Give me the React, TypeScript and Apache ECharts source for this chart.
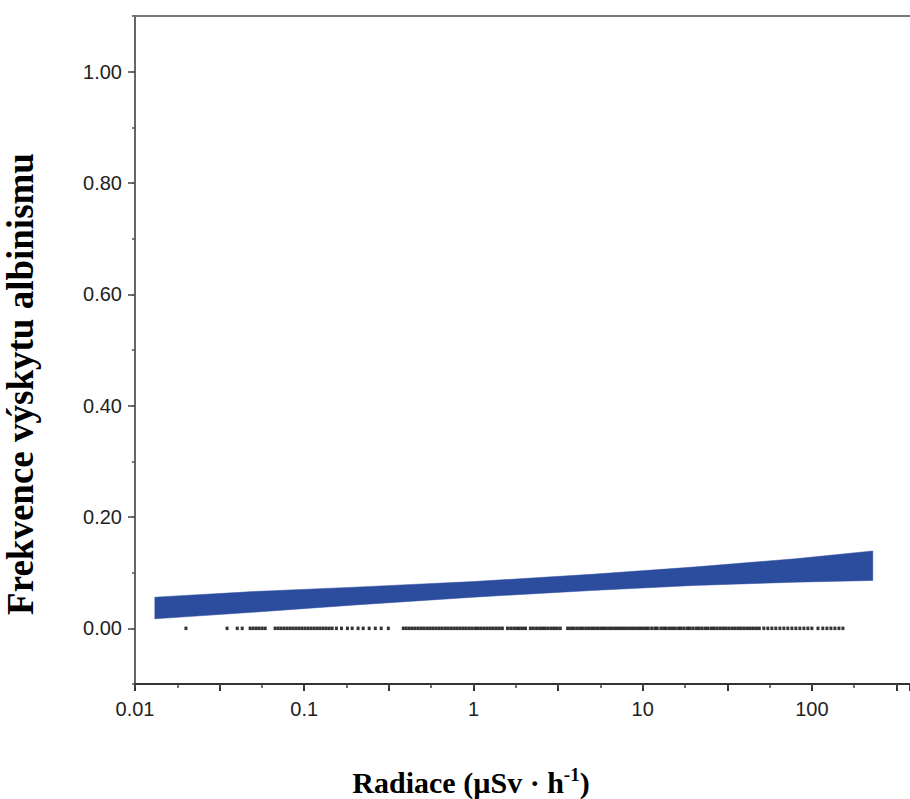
import React, { useEffect, useRef } from 'react';
import * as echarts from 'echarts';

// Confidence band of the fitted albinism frequency vs radiation
const bandX = [0.0131, 0.05, 0.2, 1, 5, 20, 80, 229];
const bandLow = [0.017, 0.029, 0.042, 0.056, 0.068, 0.077, 0.083, 0.086];
const bandHigh = [0.056, 0.066, 0.074, 0.084, 0.097, 0.110, 0.125, 0.139];

// Observed sampling sites (radiation, µSv/h), all with frequency 0
const siteRadiation = [
  0.020,
  0.0350, 0.0402, 0.0430,
  0.0479, 0.0499, 0.0520, 0.0541, 0.0564, 0.0588,
  0.0673, 0.0701, 0.0730, 0.0761, 0.0793, 0.0826, 0.0860, 0.0896, 0.0933, 0.0972,
  0.1013, 0.1055, 0.1099, 0.1145, 0.1193, 0.1242, 0.1294, 0.1348, 0.1404, 0.1463,
  0.155, 0.166, 0.180, 0.192, 0.208, 0.223, 0.242, 0.263, 0.285, 0.314,
  0.385, 0.401, 0.418, 0.435, 0.453, 0.472, 0.492, 0.512, 0.534, 0.556,
  0.579, 0.603, 0.628, 0.654, 0.682, 0.710, 0.740, 0.771, 0.803, 0.836,
  0.871, 0.907, 0.945, 0.985, 1.028, 1.069, 1.113, 1.160, 1.208, 1.259,
  1.311, 1.366, 1.423, 1.482,
  1.59, 1.66, 1.73, 1.80, 1.87, 1.95, 2.03,
  2.17, 2.26, 2.36, 2.46, 2.56, 2.66, 2.77, 2.89, 3.01, 3.13, 3.26,
  3.60, 3.75, 3.90, 4.07, 4.24, 4.41, 4.60,
  4.79, 4.99, 5.19, 5.41, 5.64, 5.87, 6.11, 6.37, 6.63, 6.91,
  7.20, 7.50, 7.81, 8.14, 8.48, 8.83, 9.20, 9.58, 9.98, 10.4,
  10.8, 11.3, 11.8, 12.2, 12.8, 13.3, 13.8, 14.4, 15.0, 15.6,
  16.3, 16.9, 17.6, 18.4, 19.1, 19.9, 20.8, 21.6, 22.5, 23.5,
  24.4, 25.5, 26.5, 27.6, 28.8, 30.0, 31.2, 32.5, 33.9, 35.3,
  36.8, 38.3, 39.9, 41.6, 43.3, 45.1, 47.0, 48.9,
  52.0, 54.9, 58.0, 61.2, 64.7, 68.3, 72.1, 76.2, 80.4, 84.9, 89.7, 94.7, 100,
  108.6, 116, 122.7, 129.6, 136.8, 144.5, 152.5,
];
const siteFrequency = siteRadiation.map(() => 0);

// Axis settings
const X_MIN = 0.01;
const X_MAX = 380;
const Y_MIN = -0.1;
const Y_MAX = 1.1;
const yTickValues = [0, 0.2, 0.4, 0.6, 0.8, 1.0];

const SANS = '"Liberation Sans", Arial, Helvetica, sans-serif';
const SERIF = '"Liberation Serif", "Times New Roman", serif';
const BAND_COLOR = '#2c4c9e';

export default function App() {
  const ref = useRef<HTMLDivElement>(null);

  useEffect(() => {
    if (!ref.current) return;
    const chart = echarts.init(ref.current, null, { renderer: 'svg' });
    const logMin = Math.log10(X_MIN);
    const logMax = Math.log10(X_MAX);

    const hiddenAxisBase = {
      axisLabel: { show: false },
      splitLine: { show: false },
    };

    const option: any = {
      animation: false,
      backgroundColor: '#ffffff',
      grid: {
        left: 135,
        top: 16,
        right: 0,
        bottom: 115,
        containLabel: false,
        outerBoundsMode: 'none',
      },
      xAxis: [
        {
          type: 'log',
          logBase: 10,
          min: X_MIN,
          max: X_MAX,
          position: 'bottom',
          axisLine: { show: true, onZero: false, lineStyle: { color: '#333', width: 2 } },
          axisTick: { show: false },
          minorTick: { show: false },
          splitLine: { show: false },
          axisLabel: {
            fontFamily: SANS,
            fontSize: 20,
            color: '#222',
            margin: 15,
            showMaxLabel: false,
          },
        },
        {
          type: 'log',
          logBase: 10,
          min: X_MIN,
          max: X_MAX,
          position: 'top',
          axisLine: { show: true, onZero: false, lineStyle: { color: '#777', width: 2 } },
          axisTick: { show: false },
          ...hiddenAxisBase,
        },
        {
          type: 'value',
          min: logMin,
          max: logMax,
          interval: 0.5,
          position: 'bottom',
          axisLine: { show: false, onZero: false },
          axisTick: { show: true, length: 7, lineStyle: { color: '#333', width: 2 } },
          ...hiddenAxisBase,
        },
        {
          type: 'value',
          min: logMin,
          max: logMax,
          interval: 0.25,
          position: 'bottom',
          axisLine: { show: false, onZero: false },
          axisTick: { show: true, length: 4, lineStyle: { color: '#444', width: 1.5 } },
          ...hiddenAxisBase,
        },
      ],
      yAxis: [
        {
          type: 'value',
          min: Y_MIN,
          max: Y_MAX,
          interval: 0.1,
          position: 'left',
          axisLine: { show: true, onZero: false, lineStyle: { color: '#666', width: 2 } },
          axisTick: {
            show: true,
            length: 7,
            customValues: yTickValues,
            lineStyle: { color: '#444', width: 1.5 },
          },
          axisLabel: {
            customValues: yTickValues,
            fontFamily: SANS,
            fontSize: 20,
            color: '#222',
            margin: 13,
            formatter: (v: number) => v.toFixed(2),
          },
          splitLine: { show: false },
        },
        {
          type: 'value',
          min: Y_MIN,
          max: Y_MAX,
          interval: 0.1,
          position: 'left',
          axisLine: { show: false, onZero: false },
          axisTick: { show: true, length: 3, lineStyle: { color: '#555', width: 1.5 } },
          ...hiddenAxisBase,
        },
      ],
      series: [
        {
          type: 'custom',
          name: 'band',
          xAxisIndex: 0,
          yAxisIndex: 0,
          coordinateSystem: 'cartesian2d',
          data: [[bandX[0], bandLow[0]]],
          renderItem: (_params: any, api: any) => {
            const upper = bandX.map((x, i) => api.coord([x, bandHigh[i]]));
            const lower = bandX
              .map((x, i) => api.coord([x, bandLow[i]]))
              .reverse();
            return {
              type: 'polygon',
              shape: { points: upper.concat(lower) },
              style: { fill: BAND_COLOR, stroke: BAND_COLOR, lineWidth: 0.5 },
            };
          },
          z: 3,
        },
        {
          type: 'scatter',
          name: 'sites',
          xAxisIndex: 0,
          yAxisIndex: 0,
          symbol: 'rect',
          symbolSize: [3, 3.5],
          itemStyle: { color: '#000' },
          data: siteRadiation.map((x, i) => [x, siteFrequency[i]]),
          z: 2,
        },
      ],
      graphic: [
        {
          type: 'text',
          x: 20,
          y: 384,
          rotation: Math.PI / 2,
          style: {
            text: 'Frekvence výskytu albinismu',
            font: `bold 37px ${SERIF}`,
            fill: '#000',
            align: 'center',
            verticalAlign: 'middle',
            textAlign: 'center',
            textVerticalAlign: 'middle',
          },
        },
        {
          type: 'text',
          x: 471,
          y: 782,
          style: {
            text: '{a|Radiace (µSv · h}{s|-1}{a|)}',
            align: 'center',
            verticalAlign: 'middle',
            textAlign: 'center',
            textVerticalAlign: 'middle',
            rich: {
              a: {
                fontFamily: SERIF,
                fontWeight: 'bold',
                fontSize: 30,
                lineHeight: 34,
                color: '#000',
              },
              s: {
                fontFamily: SERIF,
                fontWeight: 'bold',
                fontSize: 19,
                lineHeight: 19,
                color: '#000',
                verticalAlign: 'top',
              },
            },
          },
        },
      ],
    };

    chart.setOption(option);
    return () => chart.dispose();
  }, []);

  return (
    <div
      ref={ref}
      style={{ position: 'absolute', left: 0, top: 0, width: 910, height: 799, background: '#fff' }}
    />
  );
}
